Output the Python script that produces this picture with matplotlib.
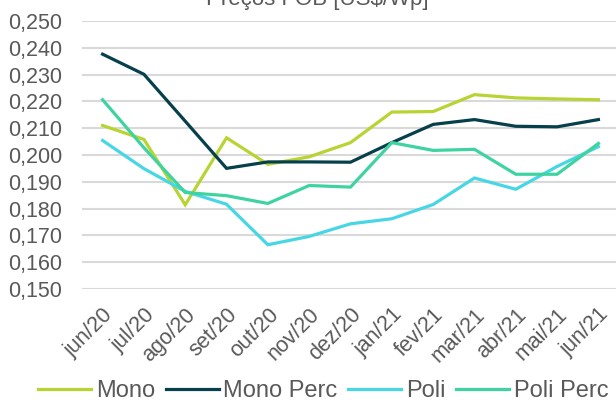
import matplotlib.pyplot as plt
import numpy as np

plt.rcParams["font.family"] = ["Liberation Sans", "DejaVu Sans"]

meses = ["jun/20", "jul/20", "ago/20", "set/20", "out/20", "nov/20", "dez/20",
         "jan/21", "fev/21", "mar/21", "abr/21", "mai/21", "jun/21"]

mono = [0.2110, 0.2058, 0.1814, 0.2064, 0.1965, 0.1993, 0.2046,
        0.2160, 0.2162, 0.2225, 0.2213, 0.2209, 0.2206]
mono_perc = [0.2376, 0.2301, 0.2126, 0.1950, 0.1974, 0.1974, 0.1973,
             0.2046, 0.2114, 0.2132, 0.2107, 0.2105, 0.2132]
poli = [0.2054, 0.1949, 0.1864, 0.1816, 0.1665, 0.1696, 0.1743,
        0.1762, 0.1815, 0.1914, 0.1872, 0.1957, 0.2031]
poli_perc = [0.2206, 0.2027, 0.1860, 0.1848, 0.1819, 0.1886, 0.1880,
             0.2046, 0.2017, 0.2021, 0.1928, 0.1928, 0.2043]

series = [("Mono", mono, "#b7d433"),
          ("Mono Perc", mono_perc, "#06404b"),
          ("Poli", poli, "#46d6e4"),
          ("Poli Perc", poli_perc, "#3fd3a0")]

cinza = "#595959"

fig = plt.figure(figsize=(6.16, 4.03), dpi=100)
ax = fig.add_axes([0.133, 0.283, 0.872, 0.665])

x = np.arange(len(meses))
for nome, valores, cor in series:
    ax.plot(x, valores, color=cor, linewidth=2.3, label=nome,
            solid_joinstyle="miter", zorder=3)

ax.set_xlim(-0.5, len(meses) - 0.5)
ax.set_ylim(0.150, 0.250)
ax.set_yticks(np.arange(0.150, 0.2501, 0.010))
ax.set_yticklabels([f"{v:.3f}".replace(".", ",") for v in np.arange(0.150, 0.2501, 0.010)])
ax.set_xticks(x)
ax.set_xticklabels(meses, rotation=45, ha="right", va="top", rotation_mode="anchor")

ax.grid(axis="y", color="#d9d9d9", linewidth=1.5, zorder=0)
ax.set_axisbelow(True)
for s in ax.spines.values():
    s.set_visible(False)
ax.tick_params(axis="y", length=0, labelsize=15.5, colors=cinza, pad=14)
ax.tick_params(axis="x", length=0, labelsize=15.5, colors=cinza, pad=11)

fig.text(0.515, 0.988, "Preços FOB [US$/Wp]", ha="center", va="baseline",
         fontsize=16, color=cinza)

fig.legend(loc="center", bbox_to_anchor=(0.525, 0.03), ncol=4, frameon=False,
           fontsize=17, handlelength=2.25, handletextpad=0.2, columnspacing=0.45,
           labelcolor=cinza, borderpad=0.0)

fig.savefig("out.png", dpi=100)
